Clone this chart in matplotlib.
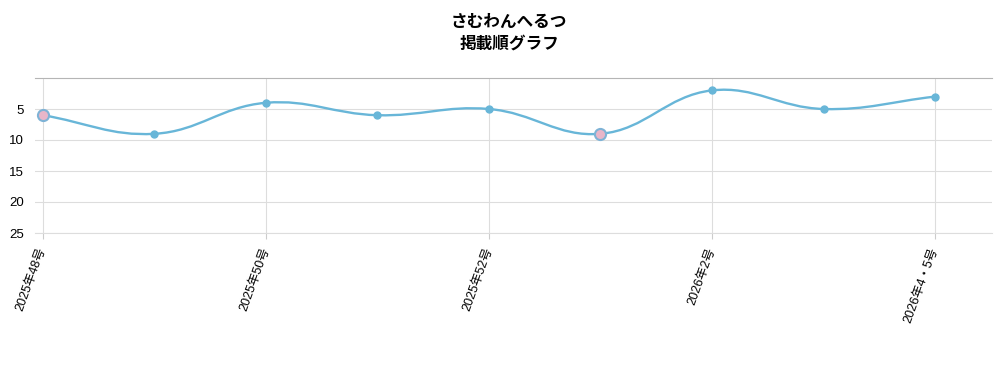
import numpy as np
import matplotlib
matplotlib.use("Agg")
import matplotlib.pyplot as plt
from matplotlib.path import Path
from matplotlib.patches import PathPatch
from matplotlib.transforms import ScaledTranslation

plt.rcParams['font.family'] = ['Liberation Sans', 'Noto Sans CJK JP', 'DejaVu Sans']

# data
issues = ['2025年48号', '2025年49号', '2025年50号', '2025年51号', '2025年52号',
          '2026年1号', '2026年2号', '2026年3号', '2026年4・5号']
ranks = [6, 9, 4, 6, 5, 9, 2, 5, 3]
highlight = [0, 5]
title_lines = ['さむわんへるつ', '掲載順グラフ']

LINE = '#68b6d8'
PINK = '#e8b6c9'

fig = plt.figure(figsize=(10.08, 3.84), dpi=100)
ax = fig.add_axes([35 / 1008, 1 - 233 / 384, 957 / 1008, 155 / 384])

xs = np.arange(len(ranks), dtype=float)
ys = np.array(ranks, dtype=float)
ax.set_xlim(-0.07, len(ranks) - 0.49)
ax.set_ylim(25, 0)


def spline_path(x, y, tension=0.4):
    # chart.js style bezier smoothing, computed in pixel space
    pts = ax.transData.transform(np.column_stack([x, y]))
    n = len(pts)
    verts = [pts[0]]
    codes = [Path.MOVETO]
    cps = []
    for i in range(n):
        prev = pts[max(i - 1, 0)]
        cur = pts[i]
        nxt = pts[min(i + 1, n - 1)]
        d01 = np.hypot(*(cur - prev))
        d12 = np.hypot(*(nxt - cur))
        tot = d01 + d12
        s01 = d01 / tot if tot else 0
        s12 = d12 / tot if tot else 0
        cps.append((cur - tension * s01 * (nxt - prev),
                    cur + tension * s12 * (nxt - prev)))
    for i in range(1, n):
        verts += [cps[i - 1][1], cps[i][0], pts[i]]
        codes += [Path.CURVE4] * 3
    inv = ax.transData.inverted()
    return Path(inv.transform(np.array(verts)), codes)


ax.add_patch(PathPatch(spline_path(xs, ys), fc='none', ec=LINE, lw=1.7, zorder=3))

normal = [i for i in range(len(ranks)) if i not in highlight]
ax.plot(xs[normal], ys[normal], 'o', ms=5, color=LINE, zorder=4)
ax.plot(xs[highlight], ys[highlight], 'o', ms=8, mfc=PINK, mec='#7fb3d6', mew=1.5, zorder=5)

ax.set_yticks([5, 10, 15, 20, 25])
ax.set_xticks(xs[::2])
ax.set_xticklabels(issues[::2], rotation=70, ha='right', va='center',
                   rotation_mode='anchor', fontsize=9)
shift = ScaledTranslation(3 / 100, -3 / 100, fig.dpi_scale_trans)
for lab in ax.get_xticklabels():
    lab.set_y(-0.06)
    lab.set_transform(lab.get_transform() + shift)
ax.tick_params(axis='y', length=0, pad=8, labelsize=9.5)
ax.tick_params(axis='x', length=4, color='#cccccc', pad=0)
ax.grid(True, color='#dddddd', lw=0.8)
ax.set_axisbelow(True)
for s in ['left', 'right']:
    ax.spines[s].set_visible(False)
ax.spines['top'].set_color('#b5b5b5')
ax.spines['bottom'].set_color('#dddddd')

fig.text(509 / 1008, 1 - 22 / 384, title_lines[0], ha='center', va='center',
         fontsize=12, fontweight='bold', family=['Noto Sans CJK JP'])
fig.text(509 / 1008, 1 - 44 / 384, title_lines[1], ha='center', va='center',
         fontsize=12, fontweight='bold', family=['Noto Sans CJK JP'])

fig.savefig('out.png', dpi=100)
